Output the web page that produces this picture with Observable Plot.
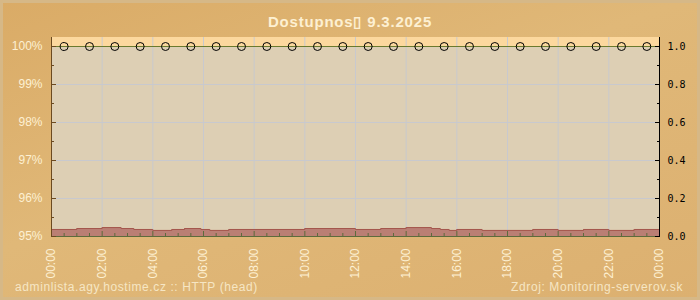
<!DOCTYPE html>
<html><head><meta charset="utf-8">
<script src="https://cdn.jsdelivr.net/npm/d3@7"></script>
<script src="https://cdn.jsdelivr.net/npm/@observablehq/plot@0.6"></script>
<style>
html,body{margin:0;padding:0;background:#dcb172;}
#chart{position:relative;width:700px;height:300px;overflow:hidden;
 background:linear-gradient(160deg,#daab66 0%,#e0b878 45%,#dcb070 100%);
 box-shadow:inset 0 0 0 3px #d6b887;font-family:"Liberation Sans",Arial,sans-serif;}
#chart svg{position:absolute;left:0;top:0;}
.t{position:absolute;white-space:nowrap;line-height:1;}
#title{left:0;width:700px;top:14px;text-align:center;font-weight:bold;font-size:15px;letter-spacing:0.8px;color:#fdf0d2;}
#fl{left:15px;top:281px;font-size:12px;letter-spacing:0.6px;color:#f6e6c4;}
#fr{right:17px;top:281px;font-size:12px;letter-spacing:0.6px;color:#f6e6c4;}
</style></head>
<body>
<div id="chart">
 <div class="t" id="title">Dostupnos▯ 9.3.2025</div>
 <div class="t" id="fl">adminlista.agy.hostime.cz :: HTTP (head)</div>
 <div class="t" id="fr">Zdroj: Monitoring-serverov.sk</div>
</div>
<script>
// availability samples (hour of day, percent)
const availHours = [0.5,1.5,2.5,3.5,4.5,5.5,6.5,7.5,8.5,9.5,10.5,11.5,12.5,13.5,14.5,15.5,16.5,17.5,18.5,19.5,20.5,21.5,22.5,23.5];
const availValues = [100,100,100,100,100,100,100,100,100,100,100,100,100,100,100,100,100,100,100,100,100,100,100,100];
// response time (seconds), step changes
const respHours  = [0, 1, 2, 2.75, 3.25, 4, 4.75, 5.25, 5.9, 6.25, 7, 10, 12, 13, 14, 15, 15.35, 15.7, 16, 17, 19, 20, 21, 22, 23, 24];
const respValues = [0.037,0.042,0.047,0.042,0.037,0.032,0.037,0.042,0.037,0.032,0.037,0.042,0.037,0.042,0.047,0.042,0.037,0.032,0.037,0.032,0.037,0.032,0.037,0.032,0.037,0.037];
// axis ticks
const xLabelHours = [0,2,4,6,8,10,12,14,16,18,20,22,24];
const xMinorHours = [0.5,1,1.5,2.5,3,3.5,4.5,5,5.5,6.5,7,7.5,8.5,9,9.5,10.5,11,11.5,12.5,13,13.5,14.5,15,15.5,16.5,17,17.5,18.5,19,19.5,20.5,21,21.5,22.5,23,23.5];
const pctTicks = [95,96,97,98,99,100];
const pctMinor = [95.5,96.5,97.5,98.5,99.5];
const respTicks = [0,0.2,0.4,0.6,0.8,1.0];
const respMinor = [0.1,0.3,0.5,0.7,0.9];
const yTop = 100.237;

const avail = availHours.map((t,i)=>({t, v: availValues[i]}));
const resp = respHours.map((t,i)=>({t, v: respValues[i]}));
const toPct = v => 95 + v*5;   // right axis (0..1) shares the plot with 95..100 %
const cream = "#fdf0d2", brown = "#6b4a20", green = "#5d6b3c";

const chart = Plot.plot({
  width:700, height:300,
  marginLeft:51, marginRight:41, marginTop:37, marginBottom:64,
  style:{background:"transparent", fontFamily:"Liberation Sans, Arial, sans-serif", fontSize:"12px", overflow:"visible"},
  x:{domain:[0,24]},
  y:{domain:[95,yTop]},
  marks:[
    Plot.frame({fill:"#ddcfb4", stroke:null}),
    Plot.rect([0],{x1:0, x2:24, y1:100, y2:yTop, fill:"#fcd89e"}),
    Plot.gridX({ticks:xLabelHours.slice(1,-1), stroke:"#c8c9ce", strokeOpacity:1}),
    Plot.gridY({ticks:pctTicks.slice(1,-1), stroke:"#c8c9ce", strokeOpacity:1}),
    Plot.areaY(resp,{x:"t", y1:95, y2:d=>toPct(d.v), curve:"step-after", fill:"#ba7f74"}),
    Plot.lineY(resp,{x:"t", y:d=>toPct(d.v), curve:"step-after", stroke:"#a4574d", strokeWidth:1}),
    Plot.axisX({ticks:xMinorHours, tickSize:3, dy:-3, fill:"none", stroke:green, label:null}),
    Plot.axisX({ticks:xLabelHours, tickSize:5, dy:-5, fill:"none", stroke:green, label:null}),
    Plot.ruleY([95],{stroke:green}),
    Plot.ruleY([100],{stroke:"#6b7a2e"}),
    Plot.dot(avail,{x:"t", y:"v", r:4, stroke:"black", strokeWidth:1, fill:"none"}),
    Plot.ruleX([0],{stroke:brown}),
    Plot.ruleX([24],{stroke:"black"}),
    Plot.axisY({anchor:"left", ticks:pctTicks, tickSize:5, dx:5, fill:"none", stroke:brown, label:null}),
    Plot.axisY({anchor:"left", ticks:pctMinor, tickSize:3, dx:3, fill:"none", stroke:brown, label:null}),
    Plot.axisY({anchor:"left", ticks:pctTicks, tickSize:0, tickPadding:9, tickFormat:d=>d+"%", fill:cream, label:null, fontSize:12}),
    Plot.axisY({anchor:"right", ticks:respTicks.map(toPct), tickSize:5, dx:-5, fill:"none", stroke:"black", label:null}),
    Plot.axisY({anchor:"right", ticks:respMinor.map(toPct), tickSize:3, dx:-3, fill:"none", stroke:"black", label:null}),
    Plot.axisY({anchor:"right", ticks:respTicks.map(toPct), tickSize:0, tickPadding:8,
      tickFormat:d=>((d-95)/5).toFixed(1), fill:"black", label:null, fontFamily:"DejaVu Sans Mono", fontSize:10}),
    Plot.axisX({ticks:xLabelHours, tickSize:0, tickPadding:12, tickRotate:-90,
      tickFormat:h=>String(h%24).padStart(2,"0")+":00", fill:cream, label:null, fontSize:12})
  ]
});
document.getElementById("chart").prepend(chart);
</script>
</body></html>
